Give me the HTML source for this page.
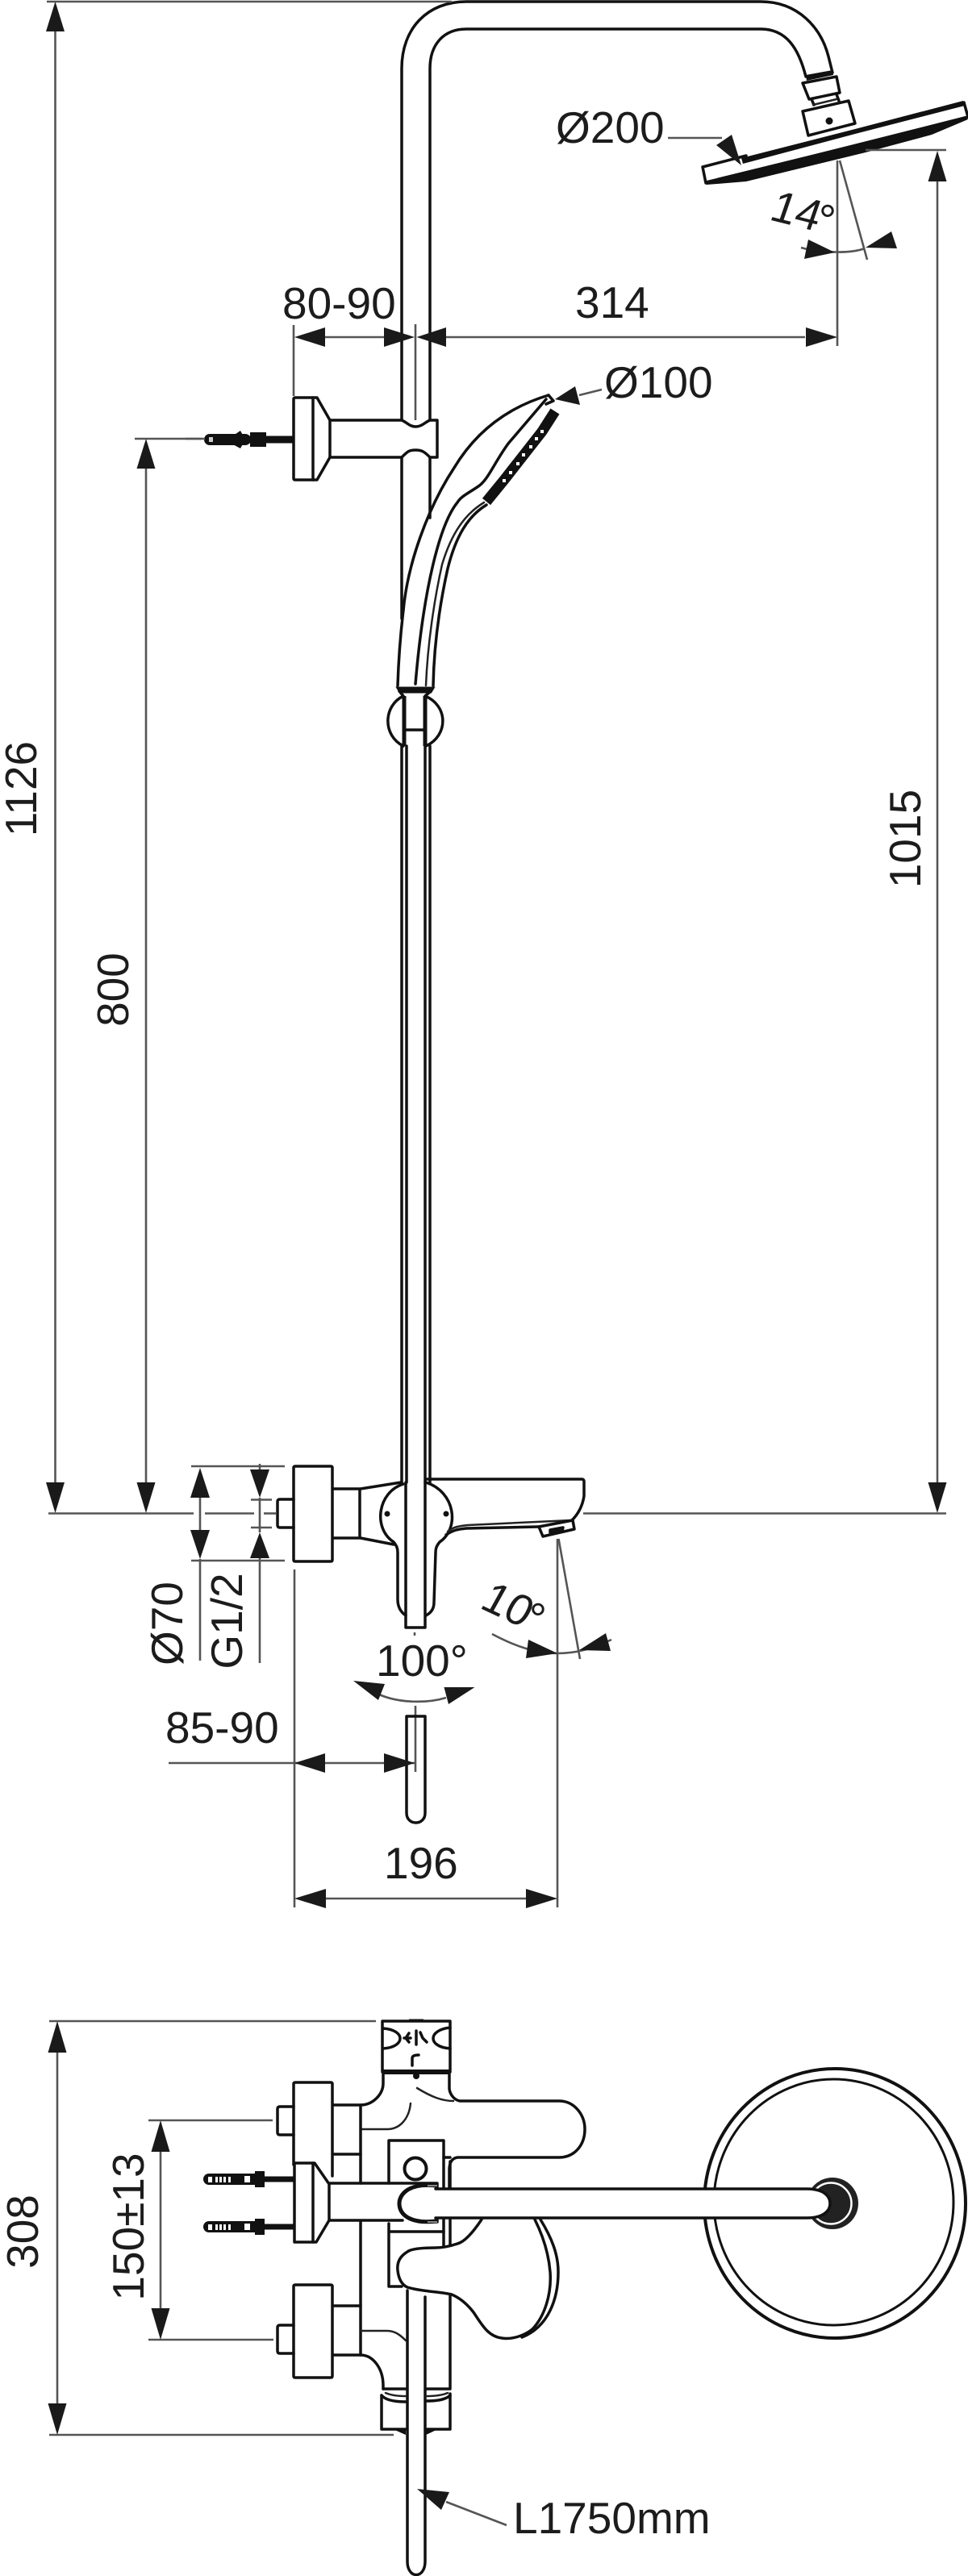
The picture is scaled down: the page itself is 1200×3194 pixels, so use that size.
<!DOCTYPE html>
<html><head><meta charset="utf-8"><style>
html,body{margin:0;padding:0;background:#fff;width:1200px;height:3194px;overflow:hidden}
svg{display:block}
text{font-family:"Liberation Sans",sans-serif;font-size:55px;fill:#1c1c1c}
.o{fill:none;stroke:#111;stroke-width:3.5;stroke-linejoin:round;stroke-linecap:round}
.t{fill:none;stroke:#222;stroke-width:2.5;stroke-linecap:round}
.d{fill:none;stroke:#555;stroke-width:2.6}
.a{fill:#1a1a1a;stroke:none}
.k{fill:#111;stroke:none}
</style></head><body>
<svg width="1200" height="3194" viewBox="0 0 1200 3194" xmlns="http://www.w3.org/2000/svg">

<!-- main rod and top pipe -->
<path class="o" d="M498 521V85C498 35 530 2 578 2H943C990 2 1018 35 1027 70L1032 90"/>
<path class="o" d="M533 521V85C533 55 550 36 578 36H943C975 36 990 60 999 95"/>
<path class="o" d="M498 567V767M533 567V642"/>
<!-- shower head -->
<path class="k" d="M999 93L1032 87L1033 93L1000 100Z"/>
<path class="o" d="M995 103L1037 95L1041 115L1003 123ZM1006 123L1009 130M1037 117L1040 125"/>
<path class="t" d="M1008 130L1037 123"/>
<path class="o" d="M995 138L1052 125L1060 153L1002 168Z" fill="#fff"/>
<circle class="k" cx="1028" cy="150" r="4.5"/>
<path class="o" stroke-width="3" d="M871 207L925 193M1195 127L1200 145L875 227L871 207"/>
<path class="k" d="M919 196L1060 160L1194 125L1196 131L1060 166L921 203Z"/>
<path class="k" d="M876 224L1198 145L1200 148L1155 167L1073 189L925 225L876 229Z"/>

<!-- dims top -->
<line class="d" x1="58" y1="2" x2="560" y2="2" stroke-width="4"/>
<polygon class="a" points="68.500,2 57,39 80,39"/>
<line class="d" x1="68.500" y1="39" x2="68.500" y2="1838"/>
<polygon class="a" points="68.500,1876 57,1838 80,1838"/>
<text text-anchor="middle" transform="translate(45 978) rotate(-90)">1126</text>

<line class="d" x1="167" y1="544" x2="250" y2="544"/>
<polygon class="a" points="181,544 169.500,581 192.500,581"/>
<line class="d" x1="181" y1="581" x2="181" y2="1838"/>
<polygon class="a" points="181,1876 169.500,1838 192.500,1838"/>
<text text-anchor="middle" transform="translate(159 1227) rotate(-90)">800</text>

<line class="d" x1="1073" y1="186" x2="1173" y2="186"/>
<polygon class="a" points="1162,187 1150.500,225 1173.500,225"/>
<line class="d" x1="1162" y1="225" x2="1162" y2="1838"/>
<polygon class="a" points="1162,1876 1150.500,1838 1173.500,1838"/>
<text text-anchor="middle" transform="translate(1141 1040) rotate(-90)">1015</text>

<line class="d" x1="60" y1="1876.500" x2="240" y2="1876.500"/>
<line class="d" x1="254" y1="1876.500" x2="315" y2="1876.500"/>
<line class="d" x1="327" y1="1876.500" x2="342" y2="1876.500"/>
<line class="d" x1="723" y1="1876.500" x2="1173" y2="1876.500"/>

<!-- 80-90 / 314 -->
<line class="d" x1="364" y1="403" x2="364" y2="491"/>
<line class="d" x1="515" y1="402" x2="515" y2="521"/>
<line class="d" x1="1038" y1="199" x2="1038" y2="429"/>
<line class="d" x1="403" y1="418" x2="476" y2="418"/>
<line class="d" x1="553" y1="418" x2="998" y2="418"/>
<polygon class="a" points="365,418 403,406 403,430"/>
<polygon class="a" points="514,418 476,406 476,430"/>
<polygon class="a" points="516.500,418 553,406 553,430"/>
<polygon class="a" points="1038,418 999,406 999,430"/>
<text x="350" y="395">80-90</text>
<text x="713" y="394">314</text>

<!-- Ø200 / 14 -->
<text x="689" y="177">Ø200</text>
<line class="d" x1="828" y1="171" x2="895" y2="171"/>
<polygon class="a" points="919,205 888,180 907,167"/>
<line class="d" x1="1041" y1="199" x2="1075" y2="322"/>
<path class="d" d="M993 307C1010 312 1050 316 1072 308"/>
<polygon class="a" points="1035,313 1002,297 997,321"/>
<polygon class="a" points="1073,307 1105,287 1112,308"/>
<text transform="translate(952 272) rotate(14) skewX(-5)">14</text>
<text x="1015" y="292">°</text>

<!-- Ø100 -->
<text x="749" y="493">Ø100</text>
<line class="d" x1="746" y1="483" x2="718" y2="490"/>
<polygon class="a" points="688,495 713,479 719,502"/>

<!-- wall bracket -->
<path class="o" d="M364 495Q364 493 366 493H388L393 493L409 521V567L393 595H366Q364 595 364 593Z"/>
<path class="o" d="M388 493V595"/>
<path class="o" d="M409 521H498C505 524 508 529 515 529C523 529 526 524 533 521H542V567H533C526 560 523 558 515 558C507 558 505 560 498 567H409"/>
<line x1="308" y1="545" x2="364" y2="545" stroke="#111" stroke-width="9"/>
<rect class="k" x="253" y="538" width="58" height="14" rx="7"/>
<path class="k" d="M285 543L298 534L304 545L298 556L285 549ZM310 536H330V554H310Z"/>
<rect x="259" y="542" width="5" height="6" fill="#ccc"/>
<line class="d" x1="230" y1="544" x2="254" y2="544"/>

<!-- hand shower + hose -->
<path class="o" d="M680 490C630 505 590 535 563 580C530 630 505 700 500 757C496 790 494 820 493 850"/>
<path class="o" d="M677 495L630 550C612 575 605 595 593 603C580 612 572 615 567 623C545 650 525 730 515 848"/>
<path class="o" d="M680 490L686 497L677 501"/>
<path class="t" stroke="#666" d="M600 623C577 637 560 660 548 700C538 745 530 800 528 850"/>
<path class="o" d="M603 626C580 640 565 665 555 705C545 750 538 800 537 850"/>
<path d="M688 510L672 535L625 595L603 622" fill="none" stroke="#111" stroke-width="13"/>
<g fill="#fff"><rect x="670" y="533" width="4" height="4"/><rect x="663" y="542" width="4" height="4"/><rect x="656" y="552" width="4" height="4"/><rect x="647" y="562" width="4" height="4"/><rect x="640" y="573" width="4" height="4"/><rect x="631" y="584" width="4" height="4"/><rect x="623" y="594" width="4" height="4"/></g>
<path d="M493 853H537L534 858H496Z" fill="#111" stroke="#111" stroke-width="3"/>
<path class="o" d="M495 857L500 863C475 875 474 912 500 925M534 857L527 863C556 875 556 912 528 925"/>
<path d="M501 863V925M527 863V925" fill="none" stroke="#111" stroke-width="5"/>
<path class="o" d="M502 905H526"/>

<!-- lower rod -->
<path class="o" stroke-width="3" d="M498 925V1838M533 925V1838"/>
<path class="o" stroke-width="2.500" d="M504 925V1838M527 925V1838"/>

<!-- mixer -->
<path class="o" stroke-width="4" d="M366 1818H410Q412 1818 412 1820V1934Q412 1936 410 1936H366Q364 1936 364 1934V1820Q364 1818 366 1818Z"/>
<path class="o" d="M364 1859H347Q344 1859 344 1862V1891Q344 1894 347 1894H364"/>
<path class="o" d="M413 1846H447L497 1838M413 1907H447L488 1915M446 1846V1907"/>
<path class="o" d="M500 1840C468 1850 462 1895 488 1912C492 1917 493 1920 493 1925L493 1983C493 1993 497 1999 503 2003"/>
<path class="o" d="M528 1838C565 1850 570 1895 545 1912C541 1917 540 1920 540 1925L538 1987C538 1995 534 2000 528 2003"/>
<path class="o" stroke-width="4" d="M503 1838V2018H527V1838"/>
<circle class="k" cx="480" cy="1877" r="3.500"/><circle class="k" cx="553" cy="1877" r="3.500"/>
<path class="o" stroke-width="4" d="M528 1834H721Q724 1834 724 1837V1855C722 1868 716 1878 709 1885"/>
<path class="o" d="M553 1903C562 1897 568 1896 578 1895L668 1893"/>
<path class="t" d="M555 1899C562 1893 570 1892 580 1891L708 1885"/>
<path class="o" d="M668 1893L710 1885L712 1896L673 1905Z"/>
<path class="o" stroke-width="2.500" d="M682 1897L698 1894L697 1898L682 1900Z"/>
<line class="d" x1="514" y1="2024" x2="514" y2="2028"/>

<!-- Ø70 / G1/2 -->
<line class="d" x1="237" y1="1818" x2="353" y2="1818"/>
<line class="d" x1="237" y1="1935" x2="353" y2="1935"/>
<line class="d" x1="311" y1="1859.500" x2="337" y2="1859.500"/>
<line class="d" x1="311" y1="1894" x2="337" y2="1894"/>
<polygon class="a" points="248,1820 236,1857 260,1857"/>
<polygon class="a" points="248,1933 236,1897 260,1897"/>
<line class="d" x1="248" y1="1857" x2="248" y2="1897"/>
<line class="d" x1="248" y1="1933" x2="248" y2="2059"/>
<polygon class="a" points="322,1857 310,1822 334,1822"/>
<polygon class="a" points="322,1900 310,1932 334,1932"/>
<line class="d" x1="322" y1="1815" x2="322" y2="1822"/>
<line class="d" x1="322" y1="1857" x2="322" y2="1900"/>
<line class="d" x1="322" y1="1932" x2="322" y2="2062"/>
<text text-anchor="middle" transform="translate(226 2013) rotate(-90)">Ø70</text>
<text text-anchor="middle" transform="translate(300 2010) rotate(-90)">G1/2</text>

<!-- 10° -->
<line class="d" x1="691" y1="1908" x2="691" y2="2365"/>
<line class="d" x1="692.500" y1="1908" x2="719" y2="2057"/>
<path class="d" d="M610 2026C640 2042 665 2050 691 2050C715 2050 735 2044 758 2033"/>
<polygon class="a" points="691,2050 655,2033 652,2056"/>
<polygon class="a" points="718,2046 751,2025 757,2047"/>
<text transform="translate(593 1993) rotate(25) skewX(-4)">10</text>
<text x="656" y="2026">°</text>

<!-- 100° -->
<text x="466" y="2078">100°</text>
<path class="d" d="M470 2101C495 2112 530 2112 553 2105"/>
<polygon class="a" points="438,2084 477,2088 469,2108"/>
<polygon class="a" points="588.500,2092 550.500,2092 556,2113"/>
<line class="d" x1="515" y1="2115" x2="515" y2="2197"/>
<path class="o" d="M504 2128H527V2248C527 2264 504 2264 504 2248Z"/>

<!-- 85-90 / 196 -->
<line class="d" x1="365" y1="1946" x2="365" y2="2365"/>
<line class="d" x1="209" y1="2186" x2="514" y2="2186"/>
<polygon class="a" points="365,2186 403,2174 403,2198"/>
<polygon class="a" points="514,2186 476,2174 476,2198"/>
<text x="205" y="2161">85-90</text>
<line class="d" x1="403" y1="2354" x2="653" y2="2354"/>
<polygon class="a" points="365,2354 404,2342 404,2366"/>
<polygon class="a" points="691,2354 652,2342 652,2366"/>
<text x="476" y="2329">196</text>

<!-- ==== plan view ==== -->
<line class="d" x1="61" y1="2506" x2="466" y2="2506"/>
<line class="d" x1="61" y1="3019" x2="488" y2="3019"/>
<polygon class="a" points="71,2506 59.500,2545 82.500,2545"/>
<polygon class="a" points="71,3019 59.500,2980 82.500,2980"/>
<line class="d" x1="71" y1="2545" x2="71" y2="2980"/>
<text text-anchor="middle" transform="translate(47 2767) rotate(-90)">308</text>

<line class="d" x1="184" y1="2629" x2="338" y2="2629"/>
<line class="d" x1="184" y1="2901" x2="339" y2="2901"/>
<polygon class="a" points="199,2629 187.500,2668 210.500,2668"/>
<polygon class="a" points="199,2901 187.500,2862 210.500,2862"/>
<line class="d" x1="199" y1="2668" x2="199" y2="2862"/>
<text text-anchor="middle" transform="translate(178 2761) rotate(-90)">150±13</text>

<!-- top block -->
<path class="o" stroke-width="4" d="M474 2506H558V2569H474Z"/>
<path d="M507 2504.500H525" stroke="#111" stroke-width="2" fill="none"/>
<path d="M474 2569H558" stroke="#111" stroke-width="6" fill="none"/>
<path class="o" stroke-width="2.500" d="M475 2515C503 2517 503 2538 475 2540M558 2514C530 2517 530 2538 558 2540"/>
<path class="o" stroke-width="3.500" d="M501 2527H509M507 2521L503 2527L507 2532M516 2518V2535M521 2520L524 2527L529 2532"/>
<path class="o" stroke-width="5" d="M511 2561V2552Q511 2548 519 2548"/>
<circle class="k" cx="516" cy="2574" r="4"/>
<path class="o" d="M475 2569V2583C475 2597 462 2610 447 2610H413"/>
<path class="o" d="M557 2569V2590C558 2598 564 2604 570 2605H693C712 2605 725 2622 725 2640C725 2660 712 2675 693 2675H567C560 2676 557 2682 557 2690V2714"/>
<path class="t" d="M517 2589C535 2600 548 2605 562 2605"/>
<path class="t" d="M509 2608C507 2628 495 2640 480 2640H447"/>
<path class="o" d="M447 2610V2707M447 2755V2920"/>
<path class="o" d="M413 2671H447"/>
<!-- knobs -->
<path class="o" stroke-width="4" d="M364 2684V2584Q364 2582 366 2582H410Q412 2582 412 2584V2698"/>
<path class="o" d="M364 2612H347Q344 2612 344 2615V2644Q344 2647 347 2647H364"/>
<path class="o" stroke-width="4" d="M366 2833H410Q412 2833 412 2835V2946Q412 2948 410 2948H366Q364 2948 364 2946V2835Q364 2833 366 2833Z"/>
<path class="o" d="M364 2883H347Q344 2883 344 2886V2915Q344 2918 347 2918H364"/>
<path class="o" d="M413 2859H447M413 2920H447C462 2920 475 2936 475 2958V2962"/>
<path class="t" d="M447 2890H480C490 2890 497 2896 503 2902"/>
<!-- center block -->
<path class="o" d="M482 2707V2654H550V2787M558 2680V2785"/>
<path class="o" d="M550 2675H558"/>
<circle cx="515" cy="2689" r="13.500" fill="none" stroke="#111" stroke-width="4"/>
<path class="o" d="M482 2767H550M482 2757V2835H498"/>
<!-- flange + arm -->
<path class="o" d="M365 2682H390L408 2708V2753L392 2780H365Z" fill="#fff"/>
<path class="o" d="M388 2682V2780"/>
<path class="o" d="M408 2707H542V2715M408 2753H499M525 2755H542V2750"/>
<!-- anchors -->
<g>
<line x1="328" y1="2702" x2="365" y2="2702" stroke="#111" stroke-width="7"/>
<line x1="328" y1="2761" x2="365" y2="2761" stroke="#111" stroke-width="7"/>
<rect class="k" x="252" y="2695" width="72" height="14" rx="7"/>
<rect class="k" x="252" y="2754" width="72" height="14" rx="7"/>
<rect class="k" x="316" y="2692" width="12" height="20"/>
<rect class="k" x="316" y="2751" width="12" height="20"/>
<g fill="#fff"><rect x="258" y="2699" width="5" height="7"/><rect x="267" y="2699" width="3" height="7"/><rect x="272" y="2699" width="3" height="7"/><rect x="277" y="2699" width="3" height="7"/><rect x="283" y="2699" width="3" height="7"/><rect x="303" y="2698" width="7" height="8"/>
<rect x="258" y="2758" width="5" height="7"/><rect x="267" y="2758" width="3" height="7"/><rect x="272" y="2758" width="3" height="7"/><rect x="277" y="2758" width="3" height="7"/><rect x="283" y="2758" width="3" height="7"/><rect x="303" y="2757" width="7" height="8"/></g>
</g>
<!-- head circle + pipe -->
<ellipse cx="1035" cy="2732" rx="162" ry="167" fill="#fff" stroke="#111" stroke-width="4"/>
<ellipse cx="1033.500" cy="2730.500" rx="148.500" ry="152.500" fill="#fff" stroke="#111" stroke-width="3"/>
<circle cx="1032" cy="2732" r="32" fill="#222"/>
<circle cx="1030" cy="2732" r="25.500" fill="none" stroke="#fff" stroke-width="2.500"/>
<path d="M1000 2714H540C515 2712 498 2720 498 2732C498 2744 515 2750 540 2749H1000C1020 2749 1030 2742 1030 2732C1030 2722 1020 2714 1000 2714Z" fill="#fff"/>
<path d="M1000 2714H540M540 2750H1000C1020 2750 1029 2742 1029 2732C1029 2722 1020 2714 1000 2714" class="o"/>
<path d="M541 2710C505 2706 495 2722 495 2732C495 2745 507 2758 541 2754" fill="none" stroke="#111" stroke-width="5"/>
<path d="M530 2710H542M530 2755H542" stroke="#888" stroke-width="2"/>
<!-- hand shower plan -->
<path d="M597 2752C585 2770 575 2780 567 2782C555 2786 545 2787 540 2787C525 2787 510 2788 505 2792C495 2798 492 2806 493 2815C494 2825 498 2833 505 2836C525 2842 545 2841 560 2845C572 2850 580 2858 587 2867C597 2882 605 2897 622 2899C635 2901 650 2896 660 2888C675 2872 684 2845 682 2817C680 2793 672 2770 663 2752Z" fill="#fff" stroke="none"/>
<path class="o" d="M597 2752C585 2770 575 2780 567 2782C555 2786 545 2787 540 2787C525 2787 510 2788 505 2792C495 2798 492 2806 493 2815C494 2825 498 2833 505 2836C525 2842 545 2841 560 2845C572 2850 580 2858 587 2867C597 2882 605 2897 622 2899C635 2901 650 2896 660 2888"/>
<path class="o" stroke-width="3" d="M660 2888C675 2872 684 2845 682 2817C680 2793 672 2770 663 2752"/>
<path class="o" stroke-width="3" d="M670 2752C684 2775 692 2795 692 2817C692 2850 680 2885 647 2898"/>
<!-- hose + lower -->
<path class="o" d="M505 2840V3176C505 3198 527 3198 527 3176V2848"/>
<path class="o" d="M558 2845V2962"/>
<path class="o" d="M475 2962H503M528 2962H557"/>
<path class="o" d="M473 2970V3012H503M558 2968V3012H528"/>
<path class="o" d="M473 2970C478 2976 490 2978 503 2978M528 2977C540 2977 552 2976 558 2970"/>
<path class="t" d="M478 2967C485 2970 495 2971 503 2971M528 2971C540 2971 548 2970 555 2967"/>
<path class="k" d="M485 3011H503V3019ZM528 3011H545L528 3019Z"/>
<!-- L1750 -->
<line class="d" x1="628" y1="3131" x2="553" y2="3102"/>
<polygon class="a" points="517,3086 557,3090 547,3112"/>
<text x="636" y="3141">L1750mm</text>
</svg>
</body></html>
